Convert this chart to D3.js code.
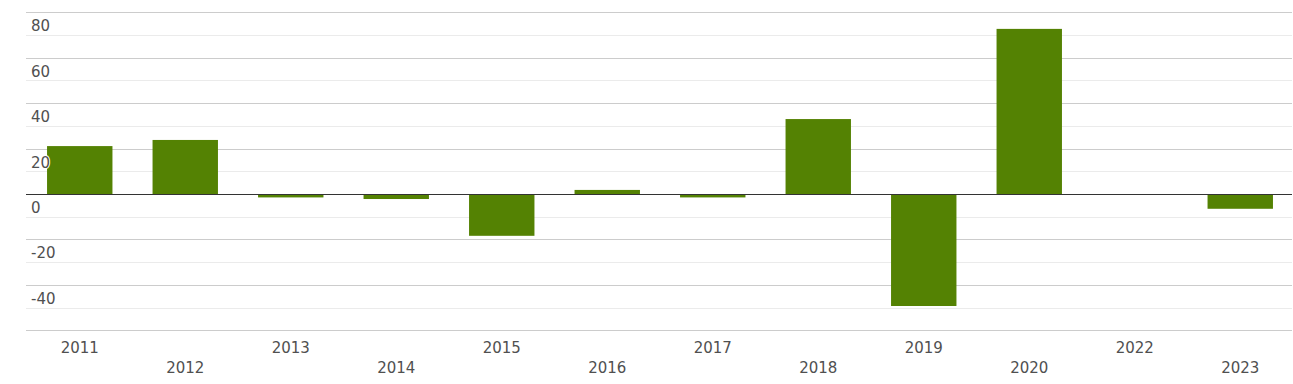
<!DOCTYPE html>
<html>
<head>
<meta charset="utf-8">
<style>
body { margin: 0; background: #fff; }
svg text { font-family: "DejaVu Sans", sans-serif; font-size: 15px; fill: #505050; }
.grid-major { stroke: #cccccc; stroke-width: 1; }
.grid-minor { stroke: #ebebeb; stroke-width: 1; }
.zero { stroke: #333; stroke-width: 1; }
.bar { fill: #548203; }
</style>
<script src="https://cdn.jsdelivr.net/npm/d3@7"></script>
</head>
<body>
<svg width="1293" height="384"></svg>
<script>
var years = ["2011", "2012", "2013", "2014", "2015", "2016", "2017", "2018", "2019", "2020", "2022", "2023"];
var values = [21.1, 23.8, -1.5, -2.2, -18.4, 1.8, -1.5, 33.0, -49.3, 72.7, 0, -6.5];
var yTicks = [80, 60, 40, 20, 0, -20, -40, -60];
var yMinor = [70, 50, 30, 10, -10, -30, -50];

var svg = d3.select("svg"),
    left = 26, right = 1292;

var x = d3.scaleBand().domain(years).range([left + 1, right + 1]).paddingInner(0.38).paddingOuter(0.19);
var y = d3.scaleLinear().domain([-60, 80]).range([330.3, 12.3]);

function crisp(v) { return Math.round(v) + 0.5; }

svg.selectAll(".grid-minor")
  .data(yMinor)
  .enter().append("line")
    .attr("class", "grid-minor")
    .attr("x1", left).attr("x2", right)
    .attr("y1", function(d) { return crisp(y(d)); })
    .attr("y2", function(d) { return crisp(y(d)); });

svg.selectAll(".grid-major")
  .data(yTicks.filter(function(d) { return d !== 0; }))
  .enter().append("line")
    .attr("class", "grid-major")
    .attr("x1", left).attr("x2", right)
    .attr("y1", function(d) { return crisp(y(d)); })
    .attr("y2", function(d) { return crisp(y(d)); });

svg.selectAll(".bar")
  .data(values)
  .enter().append("rect")
    .attr("class", "bar")
    .attr("x", function(d, i) { return x(years[i]); })
    .attr("width", x.bandwidth())
    .attr("y", function(d) { return y(Math.max(0, d)); })
    .attr("height", function(d) { return Math.abs(y(d) - y(0)); });

svg.append("line")
    .attr("class", "zero")
    .attr("x1", left).attr("x2", right)
    .attr("y1", crisp(y(0))).attr("y2", crisp(y(0)));

// y labels sit just under their gridline
svg.selectAll(".ylab")
  .data(yTicks.filter(function(d) { return d !== -60; }))
  .enter().append("text")
    .attr("class", "ylab")
    .attr("x", 31)
    .attr("y", function(d) { return y(d) + 19; })
    .style("paint-order", "stroke")
    .style("stroke", "#fff")
    .style("stroke-width", "2px")
    .text(function(d) { return d; });

// x labels alternate between two rows
svg.selectAll(".xlab")
  .data(years)
  .enter().append("text")
    .attr("class", "xlab")
    .attr("text-anchor", "middle")
    .attr("x", function(d) { return x(d) + x.bandwidth() / 2; })
    .attr("y", function(d, i) { return i % 2 === 0 ? 353 : 373; })
    .text(function(d) { return d; });
</script>
</body>
</html>
